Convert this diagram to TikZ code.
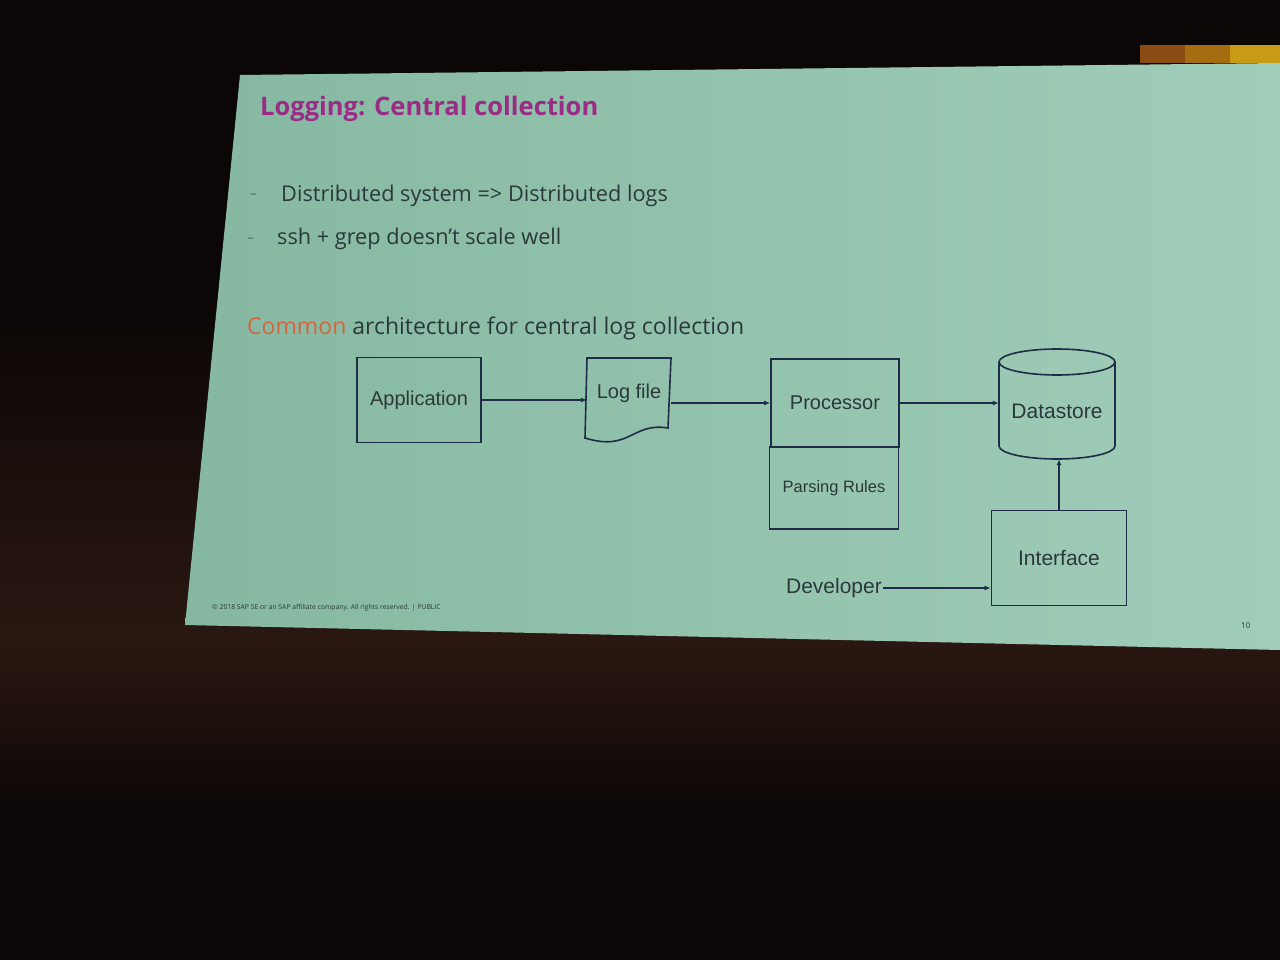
\documentclass[tikz,border=0pt]{standalone}
\usepackage{fontspec}
\setmainfont{Open Sans}
\newfontfamily\diafont{Liberation Sans}
\usetikzlibrary{arrows.meta}
\definecolor{backdrop}{HTML}{0B0706}
\definecolor{wall}{HTML}{2A1711}
\definecolor{slideL}{HTML}{86B8A1}
\definecolor{slideR}{HTML}{A0CDB9}
\definecolor{bandA}{HTML}{8A4C12}
\definecolor{bandB}{HTML}{A66C12}
\definecolor{bandC}{HTML}{C99A14}
\definecolor{titlecol}{HTML}{9A2C86}
\definecolor{accent}{HTML}{D5633C}
\definecolor{textgrey}{HTML}{2B383B}
\definecolor{lineblue}{HTML}{1F2C45}
\begin{document}
\begin{tikzpicture}[x=1pt,y=-1pt,
    box/.style={draw=lineblue,line width=1.6pt,inner sep=0pt},
    lbl/.style={font=\diafont\fontsize{20}{24}\selectfont,text=textgrey,inner sep=1pt},
    conn/.style={draw=lineblue,line width=1.4pt,-{Latex[length=6pt,width=5pt]}},
    slidetxt/.style={anchor=base west,inner sep=0pt,text=textgrey,font=\fontsize{21.7}{26}\selectfont}]
  \useasboundingbox (0,0) rectangle (1280,960);
  \fill[backdrop] (0,0) rectangle (1280,960);
  \shade[top color=backdrop,bottom color=wall] (0,300) rectangle (1280,640);
  \shade[top color=wall,bottom color=backdrop] (0,640) rectangle (1280,820);
  \shade[left color=slideL,right color=slideR] (240,75) -- (1280,63) -- (1280,650) -- (185,625) -- cycle;
  \foreach \x/\c in {1140/bandA,1185/bandB,1230/bandC} {\fill[\c] (\x,45) rectangle ++(50,18);}
  % slide text
  \node[slidetxt,text=titlecol,font=\bfseries\fontsize{25.5}{30}\selectfont] (title) at (260,116) {Logging: Central collection};
  \node[slidetxt,text=slideL!60!textgrey] (dash1) at (250,201) {-};
  \node[slidetxt] (item1) at (281,202) {Distributed system => Distributed logs};
  \node[slidetxt,text=slideL!60!textgrey] (dash2) at (247,244) {-};
  \node[slidetxt] (item2) at (277,244) {ssh + grep doesn't scale well};
  \node[slidetxt,font=\fontsize{23}{27}\selectfont] (sub) at (247,334) {\textcolor{accent}{Common} architecture for central log collection};
  \node[slidetxt,font=\fontsize{6.8}{8}\selectfont] (foot) at (212,609) {© 2018 SAP SE or an SAP affiliate company. All rights reserved. | PUBLIC};
  \node[slidetxt,font=\fontsize{8}{9}\selectfont] (page) at (1241,628) {10};
  % diagram
  \node[box,lbl,minimum width=124,minimum height=85] (app) at (419,400) {Application};
  \draw[lineblue,line width=1.6pt] (587,358) -- (671,358) -- (668,428) .. controls (632,422) and (630,452) .. (585,438) -- cycle;
  \node[lbl,minimum width=84,minimum height=60,inner sep=0pt] (logfile) at (629,393) {Log file};
  \node[box,lbl,minimum width=128,minimum height=88] (proc) at (835,403) {Processor};
  \node[box,lbl,minimum width=129,minimum height=82,font=\diafont\fontsize{16.5}{20}\selectfont] (rules) at (834,488) {Parsing Rules};
  \draw[lineblue,line width=1.6pt] (1057,362) ellipse [x radius=58pt,y radius=13pt];
  \draw[lineblue,line width=1.6pt] (999,362) -- (999,446) arc [start angle=180,end angle=360,x radius=58pt,y radius=13pt] -- (1115,362);
  \node[lbl,minimum width=116,minimum height=96,inner sep=0pt,font=\diafont\fontsize{21}{25}\selectfont] (store) at (1057,411) {Datastore};
  \node[box,lbl,minimum width=135,minimum height=95,font=\diafont\fontsize{21}{25}\selectfont] (iface) at (1059,558) {Interface};
  \node[lbl,anchor=east,font=\diafont\fontsize{21}{25}\selectfont] (dev) at (883,588) {Developer};
  \draw[conn] (app.east) -- (app.east -| logfile.west);
  \draw[conn] (logfile.east |- proc.west) -- (proc.west);
  \draw[conn] (proc.east) -- (proc.east -| store.west);
  \draw[conn] (iface.north) -- (iface.north |- store.south);
  \draw[conn] (dev.east) -- (dev.east -| iface.west);
\end{tikzpicture}
\end{document}
